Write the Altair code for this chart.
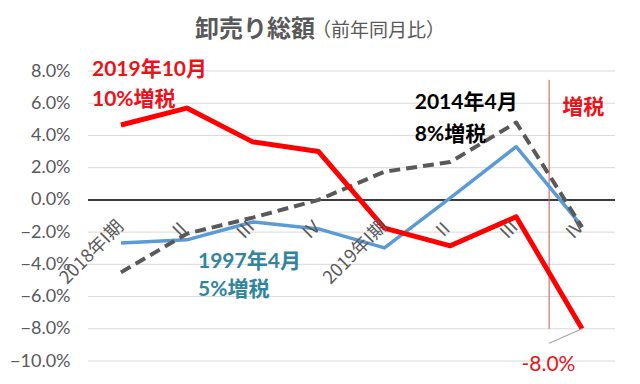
import altair as alt
import pandas as pd

# ---- data ----
categories = ["2018年I期", "Ⅱ", "Ⅲ", "Ⅳ", "2019年I期", "Ⅱ", "Ⅲ", "Ⅳ"]
tax2019 = [4.65, 5.7, 3.6, 3.0, -1.75, -2.85, -1.05, -8.0]   # 2019年10月 10%増税
tax2014 = [-4.5, -2.1, -1.1, 0.0, 1.75, 2.35, 4.8, -1.7]     # 2014年4月 8%増税
tax1997 = [-2.67, -2.48, -1.37, -1.8, -2.98, 0.12, 3.3, -1.65]  # 1997年4月 5%増税

y_ticks = [-10, -8, -6, -4, -2, 0, 2, 4, 6, 8]

ann_text = ["2019年10月", "10%増税", "2014年4月", "8%増税", "1997年4月", "5%増税", "増税"]
ann_x = [-0.44, -0.44, 4.46, 4.46, 1.17, 1.17, 6.7]
ann_y = [8.05, 6.2, 6.0, 4.0, -3.85, -5.6, 5.7]
ann_color = ["#E8141A", "#E8141A", "#000000", "#000000", "#31859C", "#31859C", "#E8141A"]

FONT = "Lato, 'Noto Sans CJK JP', sans-serif"
JFONT = "'Noto Sans CJK JP', Lato, sans-serif"

n = len(categories)
idx = list(range(n))
df = pd.DataFrame({
    "idx": idx * 3,
    "value": tax1997 + tax2014 + tax2019,
    "series": ["1997"] * n + ["2014"] * n + ["2019"] * n,
})
lab_df = pd.DataFrame({"idx": idx, "label": categories, "y": [-1.5] * n})
ann_df = pd.DataFrame({"x": ann_x, "y": ann_y, "text": ann_text, "color": ann_color})

xs = alt.Scale(domain=[-0.5, n - 0.5], nice=False, zero=False)
ys = alt.Scale(domain=[-10, 8], nice=False, zero=False)

YAX = alt.Axis(values=y_ticks, labelExpr="format(datum.value, '.1f') + '%'",
               title=None, domain=False, ticks=False, grid=False,
               labelOverlap=False, labelFlush=False, labelBound=False,
               labelFont=FONT, labelFontSize=18, labelColor="#595959",
               labelPadding=18)

def Y(field):
    return alt.Y(field, scale=ys, axis=YAX)

def X(field):
    return alt.X(field, scale=xs, axis=None)

base = alt.Chart(df)

grid = alt.Chart(pd.DataFrame({"v": y_ticks})).mark_rule(color="#D9D9D9", strokeWidth=1).encode(
    y=Y("v:Q"),
)

zero = alt.Chart(pd.DataFrame({"v": [0]})).mark_rule(color="#000000", strokeWidth=1.5).encode(
    y=Y("v:Q")
)

vrule = alt.Chart(pd.DataFrame({"x": [6.5], "y1": [7.45], "y2": [-8.0]})).mark_rule(
    color="#D0505A", strokeWidth=1).encode(
    x=X("x:Q"), y=Y("y1:Q"), y2="y2:Q",
)

def series_line(name, color, width, dash=None):
    kw = dict(color=color, strokeWidth=width, strokeJoin="round")
    if dash:
        kw["strokeDash"] = dash
    return base.transform_filter(alt.datum.series == name).mark_line(**kw).encode(
        x=X("idx:Q"), y=Y("value:Q"), order="idx:Q",
    )

l1997 = series_line("1997", "#5B9BD5", 3.5)
l2014 = series_line("2014", "#595959", 4, [11, 6])
l2019 = series_line("2019", "#FF0000", 5)

leader = alt.Chart(pd.DataFrame({"x": [7.0], "y": [-8.0], "x2": [6.5], "y2": [-8.9]})).mark_rule(
    color="#A6A6A6", strokeWidth=1.2).encode(
    x=X("x:Q"), y=Y("y:Q"), x2="x2:Q", y2="y2:Q")

xlabels = alt.Chart(lab_df).mark_text(
    align="right", baseline="middle", angle=315, font=JFONT, fontSize=18, color="#595959"
).encode(x=X("idx:Q"), y=Y("y:Q"), text="label:N")

ann = alt.Chart(ann_df).mark_text(
    align="left", baseline="middle", font=FONT, fontSize=21, fontWeight="bold"
).encode(
    x=X("x:Q"), y=Y("y:Q"), text="text:N",
    color=alt.Color("color:N", scale=None))

minus8 = alt.Chart(pd.DataFrame({"x": [6.49], "y": [-10.25], "t": ["-8.0%"]})).mark_text(
    align="center", baseline="middle", font=FONT, fontSize=21, color="#E8141A"
).encode(x=X("x:Q"), y=Y("y:Q"), text="t:N")

title_main = alt.Chart(pd.DataFrame({"t": ["卸売り総額"]})).mark_text(
    align="left", baseline="middle", font=JFONT, fontSize=24, fontWeight="bold", color="#595959"
).encode(x=alt.value(107), y=alt.value(-41), text="t:N")
title_sub = alt.Chart(pd.DataFrame({"t": ["（前年同月比）"]})).mark_text(
    align="left", baseline="middle", font=JFONT, fontSize=19, color="#595959"
).encode(x=alt.value(224), y=alt.value(-40), text="t:N")

chart = alt.layer(
    grid, zero, vrule, l1997, l2014, l2019, leader, xlabels, ann, minus8, title_main, title_sub
).properties(
    width=527, height=290,
    padding={"left": 80, "top": 63, "right": 17, "bottom": 15},
    autosize="none",
).configure_view(stroke=None).configure_axis(labelOverlap=False)

chart.save("out.html", embed_options={"renderer": "svg", "actions": False})
